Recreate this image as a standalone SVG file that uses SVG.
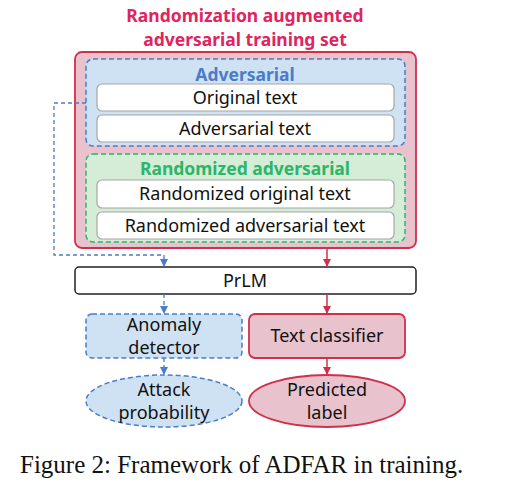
<svg xmlns="http://www.w3.org/2000/svg" width="510" height="481" viewBox="0 0 510 481">
<style>
.t{font-family:"Noto Sans","Open Sans",sans-serif;font-size:18px;fill:#111;text-anchor:middle}
.tb{font-family:"Noto Sans","Open Sans",sans-serif;font-size:17.5px;font-weight:bold;text-anchor:middle}
.wbox{fill:#fff;stroke:#a6a6a6;stroke-width:1.2}
.blue{fill:#cfe2f3;stroke:#4a7cc9;stroke-width:1.5;stroke-dasharray:5,3}
.red{fill:#e8c2cc;stroke:#d0304c;stroke-width:1.8}
.bl{fill:none;stroke:#4a7cc9;stroke-width:1.3;stroke-dasharray:4,3}
.rl{fill:none;stroke:#d0304c;stroke-width:1.5}
</style>
<defs>
<marker id="ab" markerWidth="8" markerHeight="8" refX="7" refY="4" orient="auto" markerUnits="userSpaceOnUse"><path d="M0,0L8,4L0,8z" fill="#4a7cc9"/></marker>
<marker id="ar" markerWidth="8" markerHeight="8" refX="7" refY="4" orient="auto" markerUnits="userSpaceOnUse"><path d="M0,0L8,4L0,8z" fill="#d0304c"/></marker>
</defs>
<rect width="510" height="481" fill="#fff"/>
<g id="title">
<text class="tb" x="245" y="22" style="fill:#e0245e;font-size:17.5px">Randomization augmented</text>
<text class="tb" x="245" y="46" style="fill:#e0245e;font-size:17.5px">adversarial training set</text>
</g>
<g id="training-set">
<rect class="red" x="75" y="52" width="341" height="196" rx="7"/>
</g>
<g id="adversarial">
<rect class="blue" x="86" y="59" width="319" height="87" rx="7"/>
<text class="tb" x="245" y="81" style="fill:#4a7cc9">Adversarial</text>
</g>
<g id="original-text">
<rect class="wbox" x="97" y="84" width="297" height="27" rx="5"/>
<text class="t" x="245" y="104">Original text</text>
</g>
<g id="adversarial-text">
<rect class="wbox" x="97" y="115" width="297" height="27" rx="5"/>
<text class="t" x="245" y="135">Adversarial text</text>
</g>
<g id="randomized-adversarial">
<rect x="86" y="154" width="319" height="88" rx="7" style="fill:#d5edd6;stroke:#2db56a;stroke-width:1.5;stroke-dasharray:5,3"/>
<text class="tb" x="245" y="175" style="fill:#2db56a">Randomized adversarial</text>
</g>
<g id="randomized-original-text">
<rect class="wbox" x="97" y="180" width="297" height="28" rx="5"/>
<text class="t" x="245" y="200">Randomized original text</text>
</g>
<g id="randomized-adversarial-text">
<rect class="wbox" x="97" y="212" width="297" height="27" rx="5"/>
<text class="t" x="245" y="232">Randomized adversarial text</text>
</g>
<g id="prlm">
<rect x="75" y="267" width="341" height="27" rx="4" style="fill:#fff;stroke:#222;stroke-width:1.5"/>
<text class="t" x="245" y="287">PrLM</text>
</g>
<g id="anomaly-detector">
<rect class="blue" x="86" y="314" width="156" height="44" rx="6"/>
<text class="t" x="164" y="331">Anomaly</text>
<text class="t" x="164" y="354">detector</text>
</g>
<g id="text-classifier">
<rect class="red" x="249" y="314" width="156" height="44" rx="6"/>
<text class="t" x="327" y="342">Text classifier</text>
</g>
<g id="attack-probability">
<ellipse class="blue" cx="164" cy="401" rx="78" ry="26"/>
<text class="t" x="164" y="396">Attack</text>
<text class="t" x="164" y="419">probability</text>
</g>
<g id="predicted-label">
<ellipse class="red" cx="327" cy="401" rx="78" ry="26"/>
<text class="t" x="327" y="396">Predicted</text>
<text class="t" x="327" y="419">label</text>
</g>
<g id="connectors">
<path class="bl" d="M86,103H54V255H164V266" marker-end="url(#ab)"/>
<path class="rl" d="M327,248V266" marker-end="url(#ar)"/>
<path class="bl" d="M164,294V313" marker-end="url(#ab)"/>
<path class="rl" d="M327,294V313" marker-end="url(#ar)"/>
<path class="bl" d="M164,358V374" marker-end="url(#ab)"/>
<path class="rl" d="M327,358V374" marker-end="url(#ar)"/>
</g>
<text x="20" y="473" style="font-family:'Liberation Serif',serif;font-size:25px;fill:#111">Figure 2: Framework of ADFAR in training.</text>
</svg>
